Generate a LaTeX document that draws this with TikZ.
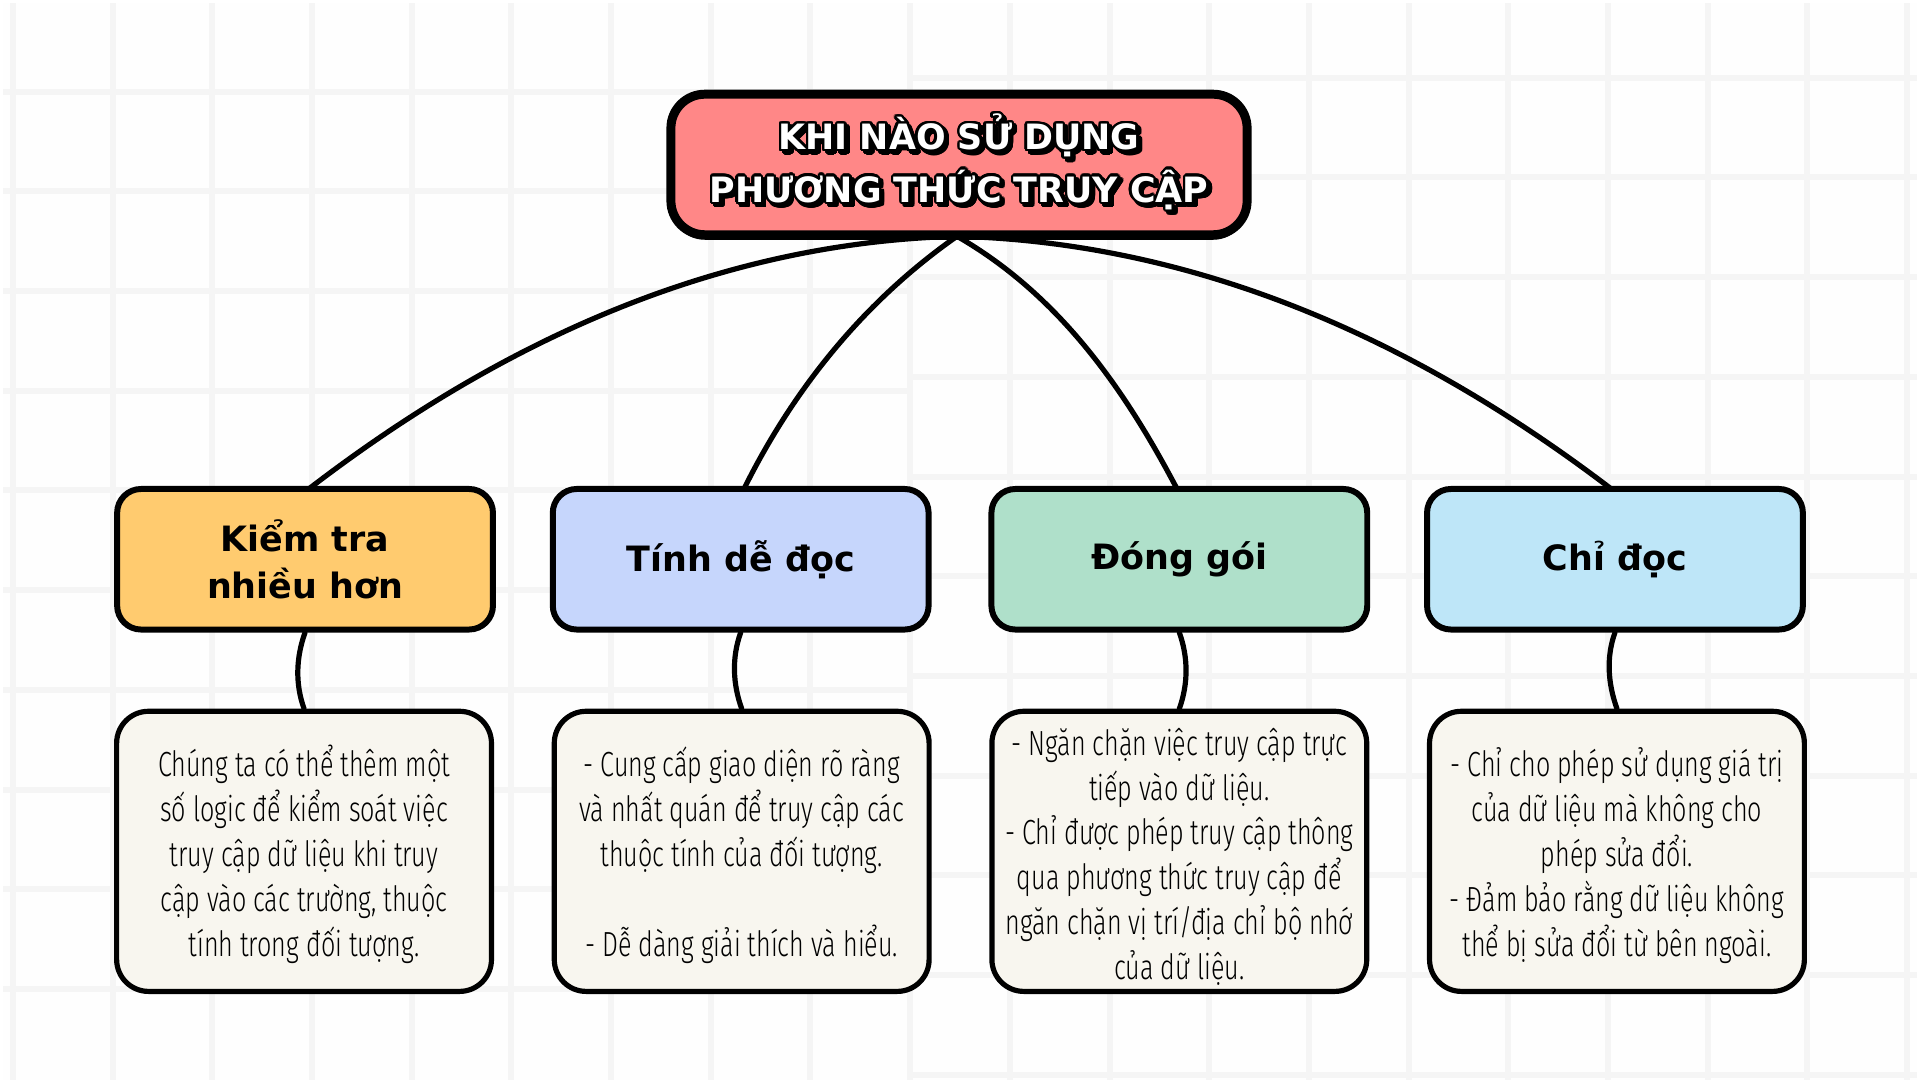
\documentclass[tikz,border=0pt]{standalone}
\usepackage{fontspec}
\usepackage{contour}
\setmainfont{DejaVu Sans}
\newfontfamily\bodyfont[FakeStretch=0.72]{Fira Sans Light}
\newfontfamily\headfont{DejaVu Sans}
\contourlength{1.2pt}
\contournumber{24}
\definecolor{bgc}{HTML}{FEFEFE}
\definecolor{gridc}{HTML}{F5F5F5}
\definecolor{titlec}{HTML}{FF8787}
\definecolor{cyellow}{HTML}{FFCB6F}
\definecolor{cblue}{HTML}{C6D6FC}
\definecolor{cgreen}{HTML}{AFE0CA}
\definecolor{csky}{HTML}{BEE6F8}
\definecolor{ccream}{HTML}{F8F6EF}
\newcommand\ttlline[1]{\leavevmode\rlap{\kern1.6pt\raisebox{-1.6pt}{\contour{black}{#1}}}\textcolor{white}{\contour{black}{#1}}}
\newcommand\topstrut{\rule{0pt}{19pt}}
\usetikzlibrary{shadows}
\begin{document}
\begin{tikzpicture}[x=0.5pt,y=-0.5pt,
  conn/.style={line width=2.6pt, draw=black, line cap=round},
  gridline/.style={draw=gridc, line width=3pt},
  titlebox/.style={draw=black, line width=4.5pt, fill=titlec, rounded corners=17pt,
    minimum width=289pt, minimum height=70.5pt, inner sep=0pt, align=center,
    drop shadow={shadow xshift=0pt, shadow yshift=-2.5pt, fill=black, opacity=1},
    font=\headfont\bfseries\fontsize{17.5}{26.5}\selectfont},
  headbox/.style={draw=black, line width=3pt, rounded corners=12pt,
    minimum width=188.5pt, minimum height=70.5pt, inner sep=0pt, align=center,
    font=\headfont\bfseries\fontsize{17.5}{23.5}\selectfont},
  infobox/.style={draw=black, line width=2.6pt, fill=ccream, rounded corners=16pt,
    minimum width=188pt, minimum height=140.5pt, inner sep=0pt, align=center,
    font=\bodyfont\fontsize{17.5}{22.5}\selectfont},
]
% background and grid
\fill[bgc] (0,0) rectangle (1920,1080);
\foreach \gx in {10,110,...,1910} \draw[gridline] (\gx,0) -- (\gx,1080);
\foreach \gy in {89,189,...,989} \draw[gridline] (0,\gy) -- (910,\gy);
\foreach \gy in {75,175,...,1075} \draw[gridline] (910,\gy) -- (1920,\gy);

% connectors from the title hub to the heading tops
\coordinate (hub) at (957,234);
\coordinate (h1top) at (306,488);
\coordinate (h2top) at (743,488);
\coordinate (h3top) at (1178,488);
\coordinate (h4top) at (1614,488);
\draw[conn] (hub) .. controls (738,240) and (522,322) .. (h1top);
\draw[conn] (hub) .. controls (864,299) and (793,387) .. (h2top);
\draw[conn] (hub) .. controls (1058,292) and (1124,385) .. (h3top);
\draw[conn] (hub) .. controls (1175,240) and (1394,320) .. (h4top);

% title
\node[titlebox] (title) at (959,162) {\ttlline{KHI NÀO SỬ DỤNG}\\\ttlline{PHƯƠNG THỨC TRUY CẬP}};

% headings
\node[headbox, fill=cyellow] (h1) at (303,558) {Kiểm tra\\nhiều hơn};
\node[headbox, fill=cblue]   (h2) at (740,558) {Tính dễ đọc};
\node[headbox, fill=cgreen]  (h3) at (1180,558) {Đóng gói};
\node[headbox, fill=csky]    (h4) at (1617,558) {Chỉ đọc};

% detail boxes
\node[infobox] (d1) at (302,851) {\topstrut Chúng ta có thể thêm một\\số logic để kiểm soát việc\\truy cập dữ liệu khi truy\\cập vào các trường, thuộc\\tính trong đối tượng.};
\node[infobox] (d2) at (741,851) {\topstrut - Cung cấp giao diện rõ ràng\\và nhất quán để truy cập các\\thuộc tính của đối tượng.\\[22.5pt]- Dễ dàng giải thích và hiểu.};
\node[infobox] (d3) at (1180,851) {\topstrut - Ngăn chặn việc truy cập trực\\tiếp vào dữ liệu.\\- Chỉ được phép truy cập thông\\qua phương thức truy cập để\\ngăn chặn vị trí/địa chỉ bộ nhớ\\của dữ liệu.};
\node[infobox] (d4) at (1619,851) {\topstrut - Chỉ cho phép sử dụng giá trị\\của dữ liệu mà không cho\\phép sửa đổi.\\- Đảm bảo rằng dữ liệu không\\thể bị sửa đổi từ bên ngoài.};

% short connectors
\draw[conn] (h1.south) .. controls +(-9,25) and +(-9,-25) .. (d1.north);
\draw[conn] (h2.south) .. controls +(-9,25) and +(-9,-25) .. (d2.north);
\draw[conn] (h3.south) .. controls +(9,25) and +(9,-25) .. (d3.north);
\draw[conn] (h4.south) .. controls +(-9,25) and +(-9,-25) .. (d4.north);
\end{tikzpicture}
\end{document}
